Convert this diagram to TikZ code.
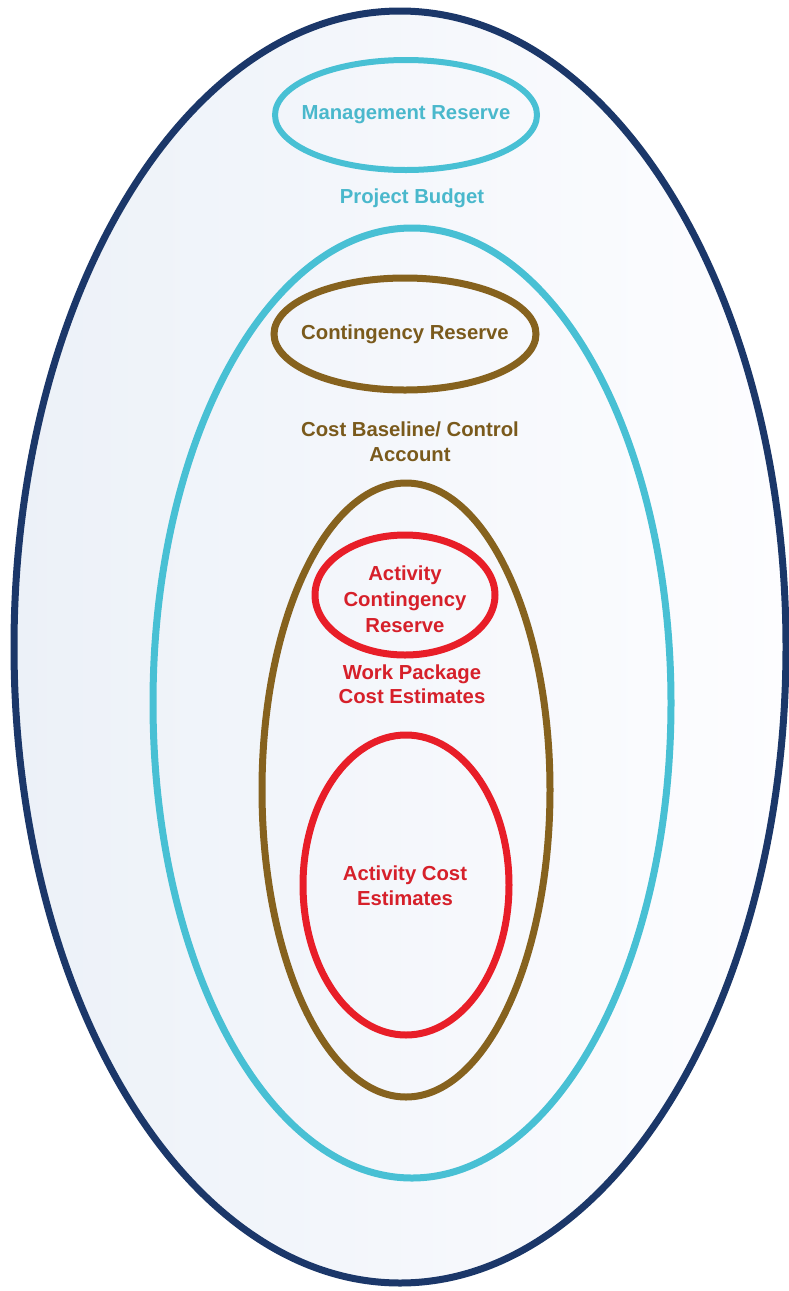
\documentclass[tikz,border=0pt]{standalone}
\usepackage{fontspec}
\setmainfont{Liberation Sans}
\usetikzlibrary{shapes.geometric}
\definecolor{navyline}{RGB}{27,55,105}
\definecolor{cyanline}{RGB}{72,192,212}
\definecolor{cyantext}{RGB}{74,184,204}
\definecolor{brownline}{RGB}{134,98,30}
\definecolor{browntext}{RGB}{122,90,28}
\definecolor{redline}{RGB}{232,30,40}
\definecolor{redtext}{RGB}{214,32,42}
\definecolor{fillleft}{RGB}{236,241,248}
\definecolor{fillright}{RGB}{253,253,255}
\begin{document}
\begin{tikzpicture}[x=1pt,y=-1pt,
  ring/.style={shape=ellipse, draw=#1, line width=7pt, inner sep=0pt},
  label/.style={text=#1, font=\bfseries\fontsize{20.3}{25}\selectfont, align=center, inner sep=0pt}]
  \useasboundingbox (0,0) rectangle (788,1291);
  \fill[white] (0,0) rectangle (788,1291);
  % soft background inside the outermost ring
  \fill[left color=fillleft, right color=fillright] (400,647) ellipse [x radius=386pt, y radius=636pt];
  % nested rings
  \node[ring=navyline, minimum width=772pt, minimum height=1272pt] (budgetring) at (400,647) {};
  \node[ring=cyanline, line width=6pt, minimum width=262pt, minimum height=110pt] (mgmtring) at (406,115) {};
  \node[ring=cyanline, minimum width=518pt, minimum height=950pt] (baselinering) at (412,703) {};
  \node[ring=brownline, minimum width=262pt, minimum height=112pt] (contring) at (405,334) {};
  \node[ring=brownline, minimum width=288pt, minimum height=614pt] (wpring) at (406,790) {};
  \node[ring=redline, minimum width=180pt, minimum height=120pt] (actcontring) at (405,595) {};
  \node[ring=redline, minimum width=206pt, minimum height=300pt] (actring) at (406,885) {};
  % labels
  \node[label=cyantext] (mgmt) at (mgmtring.center) {Management Reserve};
  \node[label=cyantext] (budget) at (412,198) {Project Budget};
  \node[label=browntext] (cont) at (contring.center) {Contingency Reserve};
  \node[label=browntext] (baseline) at (410,442) {Cost Baseline/ Control\\Account};
  \node[label=redtext, font=\bfseries\fontsize{20.3}{26}\selectfont] (actcont) at (405,599) {Activity\\Contingency\\Reserve};
  \node[label=redtext, font=\bfseries\fontsize{20.3}{23.5}\selectfont] (wp) at (412,684) {Work Package\\Cost Estimates};
  \node[label=redtext] (act) at (405,886) {Activity Cost\\Estimates};
\end{tikzpicture}
\end{document}
